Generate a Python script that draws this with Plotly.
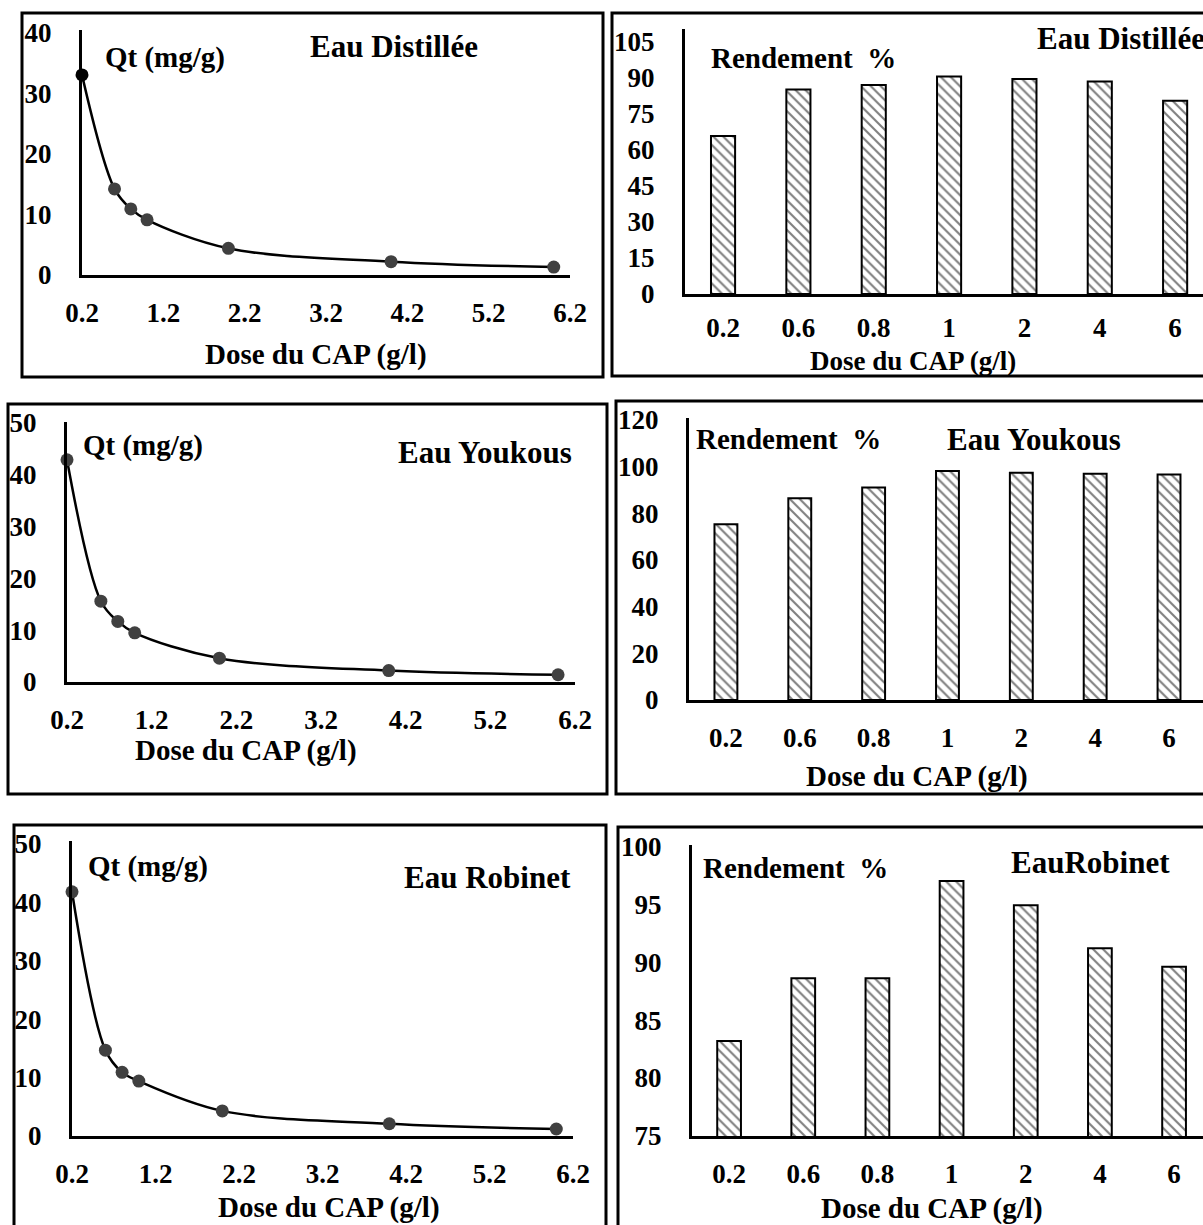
import plotly.graph_objects as go

W, H = 1203, 1225

# ---------------- data ----------------
doses_line = [0.2, 0.6, 0.8, 1.0, 2.0, 4.0, 6.0]
qt_distillee = [33.0, 14.2, 10.9, 9.1, 4.4, 2.2, 1.3]
qt_youkous = [42.9, 15.6, 11.7, 9.5, 4.6, 2.2, 1.4]
qt_robinet = [41.8, 14.7, 10.9, 9.4, 4.3, 2.1, 1.2]

dose_categories = ["0.2", "0.6", "0.8", "1", "2", "4", "6"]
rend_distillee = [65.8, 85.2, 87.1, 90.6, 89.6, 88.5, 80.5]
rend_youkous = [75.3, 86.4, 91.0, 98.1, 97.4, 96.9, 96.6]
rend_robinet = [83.2, 88.6, 88.6, 97.0, 94.9, 91.2, 89.6]

line_xticks = [0.2, 1.2, 2.2, 3.2, 4.2, 5.2, 6.2]
line_xtick_text = ["0.2", "1.2", "2.2", "3.2", "4.2", "5.2", "6.2"]

FONT = "Liberation Serif"


def xd(a, b):
    return [a / W, b / W]


def yd(top, bottom):
    return [1 - bottom / H, 1 - top / H]


def px(x):
    return x / W


def py(y):
    return 1 - y / H


fig = go.Figure()

tickfont = dict(family=FONT, size=27, color="black", weight="bold")


def axis_common():
    return dict(showgrid=False, zeroline=False, showline=True, linecolor="black",
                linewidth=3, ticks="", tickfont=tickfont, fixedrange=True,
                automargin=False)


# line panels
line_panels = [
    (1, qt_distillee, (82, 570), (30, 275), [0, 40.4], [0, 10, 20, 30, 40], "black"),
    (3, qt_youkous, (67, 575), (422, 682), [0, 50.2], [0, 10, 20, 30, 40, 50], "#404040"),
    (5, qt_robinet, (72, 573), (841, 1136), [0, 50.5], [0, 10, 20, 30, 40, 50], "#404040"),
]

for idx, vals, xdom, ydom, yr, ytv, firstc in line_panels:
    xa = "x" if idx == 1 else f"x{idx}"
    ya = "y" if idx == 1 else f"y{idx}"
    colors = [firstc] + ["#404040"] * (len(vals) - 1)
    fig.add_trace(go.Scatter(
        x=doses_line, y=vals, mode="lines+markers",
        line=dict(color="black", width=2.5, shape="spline", smoothing=1),
        marker=dict(size=13, color=colors),
        xaxis=xa, yaxis=ya, showlegend=False, cliponaxis=False))
    xk = "xaxis" if idx == 1 else f"xaxis{idx}"
    yk = "yaxis" if idx == 1 else f"yaxis{idx}"
    fig.update_layout(**{
        xk: dict(axis_common(), domain=xd(*xdom), range=[0.2, 6.2], anchor=ya,
                 tickvals=line_xticks, ticktext=line_xtick_text, ticklabelstandoff=12),
        yk: dict(axis_common(), domain=yd(*ydom), range=yr, anchor=xa,
                 tickvals=ytv, ticklabelstandoff=22),
    })

# bar panels: (index, values, x px domain, x range, y px domain, y range, yticks, bar width, x tick standoff)
bar_panels = [
    (2, rend_distillee, (685, 1203), [-0.505, 6.37], (29, 294), [0, 110.4],
     [0, 15, 30, 45, 60, 75, 90, 105], 0.32, 8),
    (4, rend_youkous, (689, 1203), [-0.5, 6.46], (418, 700), [0, 120.8],
     [0, 20, 40, 60, 80, 100, 120], 0.31, 12),
    (6, rend_robinet, (692, 1203), [-0.5, 6.39], (845, 1136), [75, 100.1],
     [75, 80, 85, 90, 95, 100], 0.32, 12),
]

for idx, vals, xdom, xr, ydom, yr, ytv, bw, xso in bar_panels:
    xa = f"x{idx}"
    ya = f"y{idx}"
    pos = list(range(len(dose_categories)))
    fig.add_trace(go.Bar(
        x=pos, y=vals, width=bw,
        marker=dict(color="white", line=dict(color="black", width=2),
                    pattern=dict(shape="\\", fgcolor="black", bgcolor="white",
                                 size=7, solidity=0.3)),
        xaxis=xa, yaxis=ya, showlegend=False))
    fig.update_layout(**{
        f"xaxis{idx}": dict(axis_common(), domain=xd(*xdom), range=xr, anchor=ya,
                            tickvals=pos, ticktext=dose_categories, ticklabelstandoff=xso),
        f"yaxis{idx}": dict(axis_common(), domain=yd(*ydom), range=yr, anchor=xa,
                            tickvals=ytv, ticklabelstandoff=22),
    })

# panel borders
boxes = [
    (22, 13, 603, 377),
    (612, 13, 1220, 376),
    (8, 404, 607, 794),
    (616, 401, 1220, 794),
    (14, 825, 606, 1245),
    (618, 827, 1220, 1245),
]
for x0, y0, x1, y1 in boxes:
    fig.add_shape(type="rect", xref="paper", yref="paper",
                  x0=px(x0), x1=px(x1), y0=py(y1), y1=py(y0),
                  line=dict(color="black", width=3), fillcolor="rgba(0,0,0,0)",
                  layer="above")

# texts: (text, x center, y center, size, xanchor)
texts = [
    ("Qt (mg/g)", 165, 57, 29, "center"),
    ("Eau Distillée", 394, 46, 31, "center"),
    ("Dose du CAP (g/l)", 316, 355, 29, "center"),
    ("Rendement  %", 803, 58, 29, "center"),
    ("Eau Distillée", 1035, 38, 31, "left"),
    ("Dose du CAP (g/l)", 913, 361, 27, "center"),
    ("Qt (mg/g)", 143, 446, 29, "center"),
    ("Eau Youkous", 485, 452, 31, "center"),
    ("Dose du CAP (g/l)", 246, 750, 29, "center"),
    ("Rendement  %", 788, 439, 29, "center"),
    ("Eau Youkous", 1034, 439, 31, "center"),
    ("Dose du CAP (g/l)", 917, 776, 29, "center"),
    ("Qt (mg/g)", 148, 866, 29, "center"),
    ("Eau Robinet", 487, 877, 31, "center"),
    ("Dose du CAP (g/l)", 329, 1207, 29, "center"),
    ("Rendement  %", 795, 868, 29, "center"),
    ("EauRobinet", 1090, 862, 31, "center"),
    ("Dose du CAP (g/l)", 932, 1208, 29, "center"),
]
for t, x, y, s, xa in texts:
    fig.add_annotation(text=t, x=px(x), y=py(y), xref="paper", yref="paper",
                       xanchor=xa, yanchor="middle", showarrow=False,
                       font=dict(family=FONT, size=s, color="black", weight="bold"))

fig.update_layout(width=W, height=H, margin=dict(l=0, r=0, t=0, b=0),
                  paper_bgcolor="white", plot_bgcolor="white",
                  font=dict(family=FONT, color="black"), showlegend=False)

fig.write_html("out.html", config={"displayModeBar": False})
